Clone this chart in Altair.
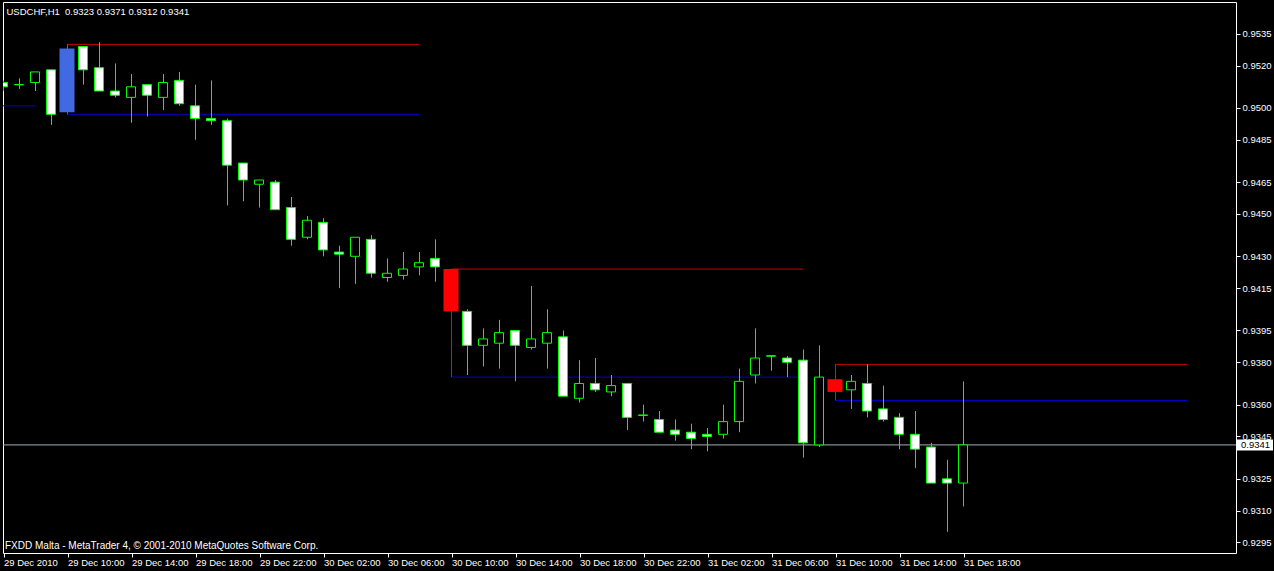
import altair as alt
import pandas as pd

# ---- hourly USDCHF bars, 29 Dec 2010 06:00 .. 31 Dec 2010 18:00 ----
symbol = "USDCHF"
timeframe = "H1"

opens = [0.9512, 0.9511, 0.9512, 0.9518, 0.9498, 0.9529, 0.9519, 0.9508, 0.9505, 0.9511,
         0.9505, 0.9513, 0.9501, 0.9495, 0.9494, 0.9474, 0.9464, 0.9465, 0.9453, 0.9439,
         0.9446, 0.9432, 0.9430, 0.9438, 0.9420, 0.9421, 0.9425, 0.9429, 0.9424, 0.9404,
         0.9388, 0.9389, 0.9395, 0.9387, 0.9389, 0.9392, 0.9363, 0.9370, 0.9366, 0.9370,
         0.9355, 0.9353, 0.9348, 0.9347, 0.9346, 0.9346, 0.9352, 0.9374, 0.9383, 0.9382,
         0.9381, 0.9341, 0.9372, 0.9367, 0.9370, 0.9358, 0.9354, 0.9346, 0.9340, 0.9325,
         0.9323]
highs = [0.9513, 0.9514, 0.9517, 0.9518, 0.9530, 0.9529, 0.9531, 0.9521, 0.9516, 0.9511,
         0.9516, 0.9517, 0.9511, 0.9513, 0.9495, 0.9474, 0.9466, 0.9466, 0.9458, 0.9449,
         0.9448, 0.9435, 0.9439, 0.9440, 0.9429, 0.9432, 0.9432, 0.9438, 0.9424, 0.9405,
         0.9396, 0.9400, 0.9395, 0.9416, 0.9405, 0.9395, 0.9381, 0.9382, 0.9374, 0.9370,
         0.9360, 0.9357, 0.9353, 0.9351, 0.9349, 0.9360, 0.9377, 0.9396, 0.9383, 0.9383,
         0.9386, 0.9388, 0.9379, 0.9374, 0.9379, 0.9369, 0.9356, 0.9357, 0.9342, 0.9334,
         0.9371]
lows = [0.9508, 0.9509, 0.9508, 0.9492, 0.9497, 0.9511, 0.9508, 0.9505, 0.9493, 0.9496,
        0.9499, 0.9501, 0.9485, 0.9492, 0.9454, 0.9456, 0.9453, 0.9452, 0.9435, 0.9438,
        0.9430, 0.9415, 0.9417, 0.9420, 0.9418, 0.9419, 0.9421, 0.9418, 0.9373, 0.9374,
        0.9378, 0.9377, 0.9371, 0.9386, 0.9377, 0.9364, 0.9361, 0.9366, 0.9364, 0.9348,
        0.9352, 0.9347, 0.9343, 0.9339, 0.9338, 0.9344, 0.9347, 0.9370, 0.9376, 0.9373,
        0.9335, 0.9340, 0.9362, 0.9358, 0.9354, 0.9352, 0.9339, 0.9330, 0.9323, 0.9300,
        0.9312]
closes = [0.9510, 0.9511, 0.9517, 0.9497, 0.9528, 0.9518, 0.9508, 0.9506, 0.9510, 0.9506,
          0.9512, 0.9502, 0.9495, 0.9494, 0.9473, 0.9466, 0.9466, 0.9452, 0.9438, 0.9447,
          0.9433, 0.9431, 0.9439, 0.9422, 0.9422, 0.9424, 0.9427, 0.9425, 0.9404, 0.9388,
          0.9391, 0.9394, 0.9388, 0.9391, 0.9394, 0.9364, 0.9370, 0.9367, 0.9369, 0.9354,
          0.9355, 0.9347, 0.9346, 0.9344, 0.9345, 0.9352, 0.9371, 0.9382, 0.9383, 0.9380,
          0.9342, 0.9373, 0.9366, 0.9371, 0.9357, 0.9353, 0.9346, 0.9339, 0.9323, 0.9323,
          0.9341]

# daily 10:00 range bars (bar index) and how many bars their high/low lines run
range_bars = [4, 28, 52]
range_length = 22
prior_range_start = -20
prior_range_low = 0.9501

# time axis: one label every four bars
label_step = 4
time_labels = ["29 Dec 2010", "29 Dec 10:00", "29 Dec 14:00", "29 Dec 18:00", "29 Dec 22:00",
               "30 Dec 02:00", "30 Dec 06:00", "30 Dec 10:00", "30 Dec 14:00", "30 Dec 18:00",
               "30 Dec 22:00", "31 Dec 02:00", "31 Dec 06:00", "31 Dec 10:00", "31 Dec 14:00",
               "31 Dec 18:00"]

price_ticks = [0.9535, 0.9520, 0.9500, 0.9485, 0.9465, 0.9450, 0.9430, 0.9415,
               0.9395, 0.9380, 0.9360, 0.9345, 0.9325, 0.9310, 0.9295]
price_min, price_max = 0.9290, 0.9550

footer_text = "FXDD Malta - MetaTrader 4, \u00a9 2001-2010 MetaQuotes Software Corp."

# ---- layout ----
PLOT_W, PLOT_H = 1233, 551
BAR_PX = 16
BODY_HALF = 4.5 / BAR_PX     # candle body half-width, in bars
HL_HALF = 7.5 / BAR_PX       # highlighted range-bar half-width, in bars
FONT = "Liberation Sans"
FS = 9.5
GREEN = "#00FF00"
UP_HL = "#4169E1"
DOWN_HL = "#FF0000"
LINE_RED = "#C80000"
LINE_BLUE = "#0000C8"
BID_GRAY = "#A8ACB8"

n = len(opens)
bars = pd.DataFrame({"i": range(n), "open": opens, "high": highs, "low": lows, "close": closes})
bars["body_lo"] = bars[["open", "close"]].min(axis=1)
bars["body_hi"] = bars[["open", "close"]].max(axis=1)
bars["x0"] = bars["i"] - BODY_HALF
bars["x1"] = bars["i"] + BODY_HALF
bars["hx0"] = bars["i"] - HL_HALF
bars["hx1"] = bars["i"] + HL_HALF
bars["fill"] = ["white" if c < o else "black" for o, c in zip(opens, closes)]
bars["hl_color"] = [UP_HL if c > o else DOWN_HL for o, c in zip(opens, closes)]
is_hl = bars["i"].isin(range_bars)
normal = bars[~is_hl]
doji = normal[normal["open"] == normal["close"]]
marked = bars[is_hl]

seg_rows = [{"x0": prior_range_start, "x1": prior_range_start + range_length,
             "y": prior_range_low, "color": LINE_BLUE}]
for b in range_bars:
    seg_rows.append({"x0": b, "x1": b + range_length, "y": highs[b], "color": LINE_RED})
    seg_rows.append({"x0": b, "x1": b + range_length, "y": lows[b], "color": LINE_BLUE})
segs = pd.DataFrame(seg_rows)

bid = closes[-1]
bid_df = pd.DataFrame({"bid": [bid], "label": [f"{bid:.4f}"]})
header = f"{symbol},{timeframe}\u00a0 {opens[-1]:.4f} {highs[-1]:.4f} {lows[-1]:.4f} {closes[-1]:.4f}"

xs = alt.Scale(domain=[0, PLOT_W / BAR_PX], nice=False, zero=False)
ys = alt.Scale(domain=[price_min, price_max], nice=False, zero=False)
label_list = "[" + ",".join(f"'{t}'" for t in time_labels) + "]"
x_axis = alt.Axis(values=[k * label_step for k in range(len(time_labels))],
                  labelExpr=f"{label_list}[round(datum.value / {label_step})]",
                  title=None, grid=False, domain=False, tickColor="white", tickSize=4,
                  tickOffset=0.5, labelColor="white", labelFont=FONT, labelFontSize=FS,
                  labelAlign="left", labelBaseline="top", labelPadding=0, labelFlush=False,
                  labelOverlap=False, labelBound=False)
y_axis = alt.Axis(orient="right", values=price_ticks, format=".4f", title=None, grid=False,
                  domain=False, tickColor="white", tickSize=4, labelColor="white",
                  labelFont=FONT, labelFontSize=FS, labelAlign="left", labelBaseline="middle",
                  labelPadding=2, labelOverlap=False, labelFlush=False, labelBound=False)


def X(f):
    return alt.X(f"{f}:Q", scale=xs, axis=x_axis)


def Y(f):
    return alt.Y(f"{f}:Q", scale=ys, axis=y_axis)


bid_line = alt.Chart(bid_df).mark_rule(color=BID_GRAY, strokeWidth=1).encode(
    x=alt.value(0), x2=alt.value(PLOT_W), y=Y("bid"))

range_lines = alt.Chart(segs).mark_rule(strokeWidth=1, clip=True).encode(
    x=X("x0"), x2="x1", y=Y("y"), color=alt.Color("color:N", scale=None))

wicks = alt.Chart(normal).mark_rule(color=GREEN, strokeWidth=1, clip=True, xOffset=0.5).encode(
    x=X("i"), y=Y("low"), y2="high")

bodies = alt.Chart(normal).mark_rect(stroke=GREEN, strokeWidth=1, clip=True).encode(
    x=X("x0"), x2="x1", y=Y("body_lo"), y2="body_hi",
    fill=alt.Fill("fill:N", scale=None))

doji_ticks = alt.Chart(doji).mark_rule(color=GREEN, strokeWidth=1, clip=True).encode(
    x=X("x0"), x2="x1", y=Y("open"))

hl_wicks = alt.Chart(marked).mark_rule(strokeWidth=1, clip=True, xOffset=0.5).encode(
    x=X("i"), y=Y("low"), y2="high", color=alt.Color("hl_color:N", scale=None))

hl_bodies = alt.Chart(marked).mark_rect(clip=True).encode(
    x=X("hx0"), x2="hx1", y=Y("body_lo"), y2="body_hi",
    fill=alt.Fill("hl_color:N", scale=None))

title_text = alt.Chart(pd.DataFrame({"t": [header]})).mark_text(
    font=FONT, fontSize=FS, color="white", align="left", baseline="alphabetic").encode(
    text="t:N", x=alt.value(3.5), y=alt.value(12.5))

footer = alt.Chart(pd.DataFrame({"t": [footer_text]})).mark_text(
    font=FONT, fontSize=10, color="white", align="left", baseline="alphabetic").encode(
    text="t:N", x=alt.value(2), y=alt.value(546.5))

bid_box = alt.Chart(bid_df).mark_rule(color="white", strokeWidth=11, strokeCap="butt").encode(
    x=alt.value(PLOT_W), x2=alt.value(PLOT_W + 37), y=Y("bid"))

bid_text = alt.Chart(bid_df).mark_text(
    font=FONT, fontSize=FS, color="black", align="left", baseline="middle").encode(
    text="label:N", x=alt.value(PLOT_W + 5), y=Y("bid"))

chart = alt.layer(
    bid_line, range_lines, wicks, bodies, doji_ticks, hl_wicks, hl_bodies,
    title_text, footer, bid_box, bid_text
).properties(
    width=PLOT_W, height=PLOT_H,
    padding={"left": 3, "top": 2, "right": 38, "bottom": 18},
    autosize=alt.AutoSizeParams(type="none"),
    background="black",
).configure_view(stroke="white", strokeWidth=1, fill="black")

chart.save("out.html", embed_options={"renderer": "svg", "actions": False})
